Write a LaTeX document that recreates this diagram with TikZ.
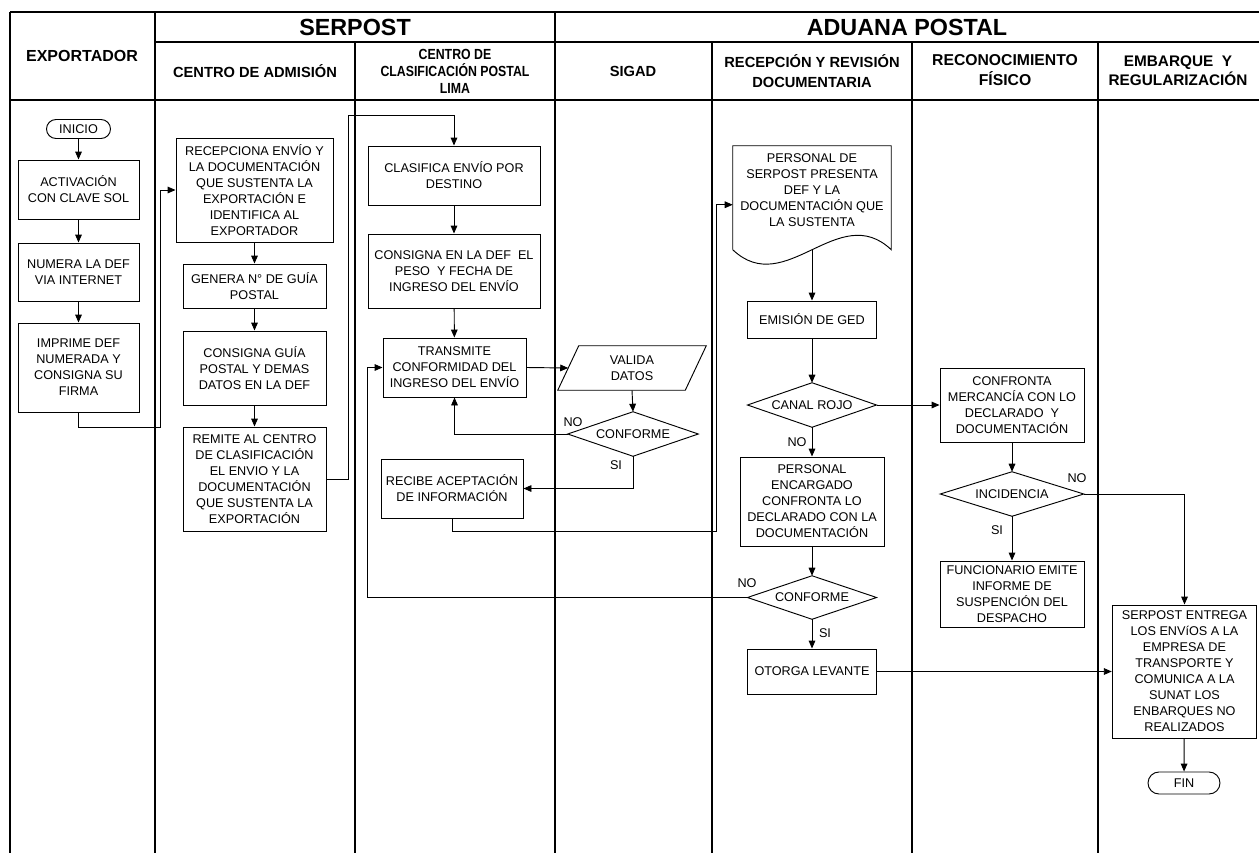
\documentclass[tikz,border=0pt]{standalone}
\usepackage{fontspec}
\setmainfont{Liberation Sans}
\newfontfamily\narrowfont[FakeStretch=0.84]{Liberation Sans}
\usetikzlibrary{arrows.meta,calc}
\begin{document}
\begin{tikzpicture}[x=0.75pt,y=-0.75pt,
  lane/.style={line width=1.6pt},
  box/.style 2 args={draw, line width=0.7pt, minimum width=#1*0.75pt, minimum height=#2*0.75pt, inner sep=0pt, align=center, font=\fontsize{9.5}{12}\selectfont},
  ghost/.style 2 args={minimum width=#1*0.75pt, minimum height=#2*0.75pt, inner sep=0pt, align=center, font=\fontsize{9.5}{12}\selectfont},
  term/.style 2 args={box={#1}{#2}, rounded corners=#2*0.375pt},
  shp/.style={line width=0.7pt},
  arr/.style={line width=0.7pt, -{Triangle[length=6pt,width=5pt]}},
  con/.style={line width=0.7pt},
  lbl/.style={inner sep=0pt, font=\fontsize{9.5}{12}\selectfont},
  hdr/.style={inner sep=0pt, align=center, font=\bfseries\fontsize{11}{14}\selectfont},
  big/.style={inner sep=0pt, font=\bfseries\fontsize{17.5}{20}\selectfont}
]
\useasboundingbox (0,0) rectangle (1259,853);
% ---------- table ----------
\draw[lane] (10,12) -- (1259,12);
\draw[lane] (155,42) -- (1259,42);
\draw[lane] (10,100) -- (1259,100);
\foreach \xx in {10,155,555} \draw[lane] (\xx,12) -- (\xx,853);
\foreach \xx in {355,712,912,1098} \draw[lane] (\xx,42) -- (\xx,853);
% ---------- headers ----------
\node[big] (hSerpost) at (355,27) {SERPOST};
\node[big] (hAduana) at (907,27) {ADUANA POSTAL};
\node[hdr, font=\bfseries\fontsize{12}{14}\selectfont] (hExp) at (82,56) {EXPORTADOR};
\node[hdr] (hAdm) at (255,71) {CENTRO DE ADMISIÓN};
\node[hdr, font=\bfseries\narrowfont\fontsize{11}{12.8}\selectfont] (hClas) at (455,71) {CENTRO DE\\CLASIFICACIÓN POSTAL\\LIMA};
\node[hdr] (hSig) at (633,71) {SIGAD};
\node[hdr, font=\bfseries\fontsize{11}{14.5}\selectfont] (hRec) at (812,71) {RECEPCIÓN Y REVISIÓN\\DOCUMENTARIA};
\node[hdr, font=\bfseries\fontsize{11.8}{14.5}\selectfont] (hRecon) at (1005,70) {RECONOCIMIENTO\\FÍSICO};
\node[hdr, font=\bfseries\fontsize{11.5}{14.5}\selectfont] (hEmb) at (1178,71) {EMBARQUE~~Y\\REGULARIZACIÓN};
% ---------- EXPORTADOR ----------
\node[term={64}{19}] (inicio) at (78.5,129) {INICIO};
\node[box={121}{59}] (act) at (78.5,189.5) {ACTIVACIÓN\\CON CLAVE SOL};
\node[box={121}{58}] (num) at (78.5,272) {NUMERA LA DEF\\VIA INTERNET};
\node[box={121}{89}] (imp) at (78.5,367.5) {IMPRIME DEF\\NUMERADA Y\\CONSIGNA SU\\FIRMA};
% ---------- CENTRO DE ADMISION ----------
\node[box={157}{104}] (rec) at (254.5,190) {RECEPCIONA ENVÍO Y\\LA DOCUMENTACIÓN\\QUE SUSTENTA LA\\EXPORTACIÓN E\\IDENTIFICA AL\\EXPORTADOR};
\node[box={143}{44}] (gen) at (254.5,286) {GENERA N° DE GUÍA\\POSTAL};
\node[box={143}{74}] (cons) at (254.5,368) {CONSIGNA GUÍA\\POSTAL Y DEMAS\\DATOS EN LA DEF};
\node[box={143}{104}] (rem) at (254.5,479) {REMITE AL CENTRO\\DE CLASIFICACIÓN\\EL ENVIO Y LA\\DOCUMENTACIÓN\\QUE SUSTENTA LA\\EXPORTACIÓN};
% ---------- CENTRO DE CLASIFICACION ----------
\node[box={172}{59}] (clas) at (454,175.5) {CLASIFICA ENVÍO POR\\DESTINO};
\node[box={172}{74}] (consdef) at (454,271) {CONSIGNA EN LA DEF~~EL\\PESO~~Y FECHA DE\\INGRESO DEL ENVÍO};
\node[box={143}{59}] (trans) at (454.5,367.5) {TRANSMITE\\CONFORMIDAD DEL\\INGRESO DEL ENVÍO};
\node[box={142}{59}] (recibe) at (452,488.5) {RECIBE ACEPTACIÓN\\DE INFORMACIÓN};
% ---------- SIGAD ----------
\node[ghost={127}{44}] (valida) at (632,368) {VALIDA\\DATOS};
\draw[shp] ($(valida.north west)+(10.5,0)$) -- ($(valida.north east)+(10.5,0)$) -- ($(valida.south east)+(-10.5,0)$) -- ($(valida.south west)+(-10.5,0)$) -- cycle;
\node[ghost={130}{44}] (conf1) at (633,434) {CONFORME};
\draw[shp] (conf1.west) -- (conf1.north) -- (conf1.east) -- (conf1.south) -- cycle;
% ---------- RECEPCION ----------
\node[ghost={158}{89}] (doc) at (812,190.5) {PERSONAL DE\\SERPOST PRESENTA\\DEF Y LA\\DOCUMENTACIÓN QUE\\LA SUSTENTA};
\draw[shp] ($(doc.north west)+(0,104)$) -- (doc.north west) -- (doc.north east) -- ($(doc.north east)+(0,104)$) .. controls ($(doc.north east)+(-52.7,54)$) and ($(doc.north west)+(52.7,154)$) .. ($(doc.north west)+(0,104)$);
\coordinate (docb) at ($(doc.north)+(0,104)$);
\node[box={128.5}{37}] (emis) at (812,319.5) {EMISIÓN DE GED};
\node[ghost={128.5}{44}] (canal) at (812,405) {CANAL ROJO};
\draw[shp] (canal.west) -- (canal.north) -- (canal.east) -- (canal.south) -- cycle;
\node[box={144}{89}] (pers) at (812,501.5) {PERSONAL\\ENCARGADO\\CONFRONTA LO\\DECLARADO CON LA\\DOCUMENTACIÓN};
\node[ghost={128.5}{43}] (conf2) at (812,597.5) {CONFORME};
\draw[shp] (conf2.west) -- (conf2.north) -- (conf2.east) -- (conf2.south) -- cycle;
\node[box={128.5}{45}] (otorga) at (812,671.5) {OTORGA LEVANTE};
% ---------- RECONOCIMIENTO ----------
\node[box={144}{74}] (confr) at (1012,405) {CONFRONTA\\MERCANCÍA CON LO\\DECLARADO~~Y\\DOCUMENTACIÓN};
\node[ghost={143}{44}] (incid) at (1012,494) {INCIDENCIA};
\draw[shp] (incid.west) -- (incid.north) -- (incid.east) -- (incid.south) -- cycle;
\node[box={144}{66}] (func) at (1012,594) {FUNCIONARIO EMITE\\INFORME DE\\SUSPENCIÓN DEL\\DESPACHO};
% ---------- EMBARQUE ----------
\node[box={144.5}{133}] (entrega) at (1184.5,671.5) {SERPOST ENTREGA\\LOS ENVíOS A LA\\EMPRESA DE\\TRANSPORTE Y\\COMUNICA A LA\\SUNAT LOS\\ENBARQUES NO\\REALIZADOS};
\node[term={72}{22}] (fin) at (1184,783) {FIN};
% ---------- connectors ----------
\draw[arr] (inicio) -- (act);
\draw[arr] (act) -- (num);
\draw[arr] (num) -- (imp);
\draw[arr] (imp.south) -- ++(0,15) -| ($(rec.west)+(-15,0)$) -- (rec.west);
\draw[arr] (rec) -- (gen);
\draw[arr] (gen) -- (cons);
\draw[arr] (cons) -- (rem);
\draw[arr] (rem.east) -- ++(22,0) |- ($(clas.north)+(0,-30)$) -- (clas.north);
\draw[arr] (clas) -- (consdef);
\draw[arr] (consdef) -- (trans);
\draw[arr] (trans.east) -- (valida.west);
\draw[arr] (valida.south) -- (conf1.north);
\draw[arr] (conf1.west) -| (trans.south);
\draw[arr] (conf1.south) |- (recibe.east);
\draw[arr] (recibe.south) -- ++(0,13) -| ($(doc.north west)+(-16,59)$) -- ($(doc.north west)+(0,59)$);
\draw[arr] (docb) -- (emis.north);
\draw[arr] (emis) -- (canal.north);
\draw[arr] (canal.east) -- (confr.west);
\draw[arr] (canal.south) -- (pers.north);
\draw[arr] (pers.south) -- (conf2.north);
\draw[arr] (conf2.west) -| ($(trans.west)+(-15,0)$) -- (trans.west);
\draw[arr] (conf2.south) -- (otorga.north);
\draw[arr] (otorga.east) -- (entrega.west);
\draw[arr] (confr.south) -- (incid.north);
\draw[arr] (incid.east) -| (entrega.north);
\draw[arr] (incid.south) -- (func.north);
\draw[arr] (entrega) -- (fin);
% ---------- labels ----------
\node[lbl] (l1) at (573,422) {NO};
\node[lbl] (l2) at (616,465) {SI};
\node[lbl] (l3) at (797,442) {NO};
\node[lbl] (l4) at (747,583) {NO};
\node[lbl] (l5) at (825,633) {SI};
\node[lbl] (l6) at (1077,478) {NO};
\node[lbl] (l7) at (997,530) {SI};
\end{tikzpicture}
\end{document}
